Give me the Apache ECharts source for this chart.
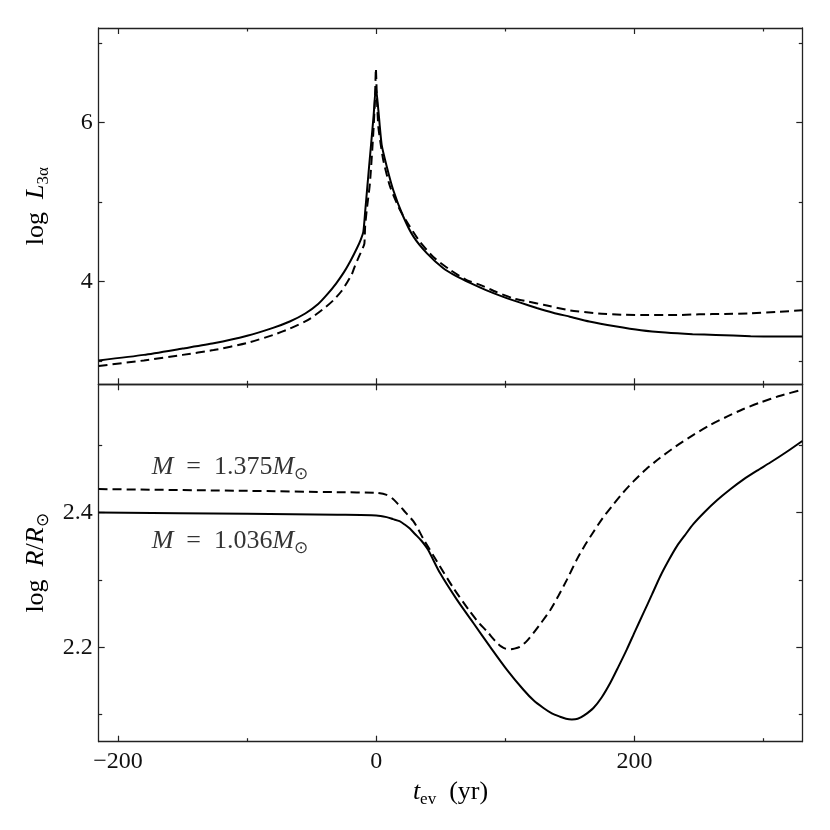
<!DOCTYPE html>
<html>
<head>
<meta charset="UTF-8">
<title>log L and log R against time</title>
<script src="https://cdn.jsdelivr.net/npm/echarts@6/dist/echarts.min.js"></script>
</head>
<body style="margin:0;background:#fff;">
<div id="chart" style="width:830px;height:830px;"></div>
<script type="text/javascript">
// shared time axis (yr)
var tMin = -215, tMax = 330;
var tMajor = [-200, 0, 200];
var tMinor = [-100, 100, 300];

// top panel, log L_3alpha
var lumMin = 2.71, lumMax = 7.19;
var lumMajor = [4, 6];
var lumMinor = [3, 5, 7];

// bottom panel, log R/Rsun
var radMin = 2.06, radMax = 2.59;
var radMajor = [2.2, 2.4];
var radMinor = [2.1, 2.3, 2.5];

// M = 1.036 Msun (solid)
var tLumLow = [-215, -180, -150, -126, -100, -80, -67, -55, -45, -38, -31, -25, -20, -15, -12, -10,
    -8.5, -7, -5.5, -4, -2, -0.3, 1.6, 4.2, 8.1, 13.2, 20.9, 28.7, 39.1, 51.9, 62, 72.6, 85, 98.4,
    111, 124.3, 137, 150, 165, 185, 205, 224, 245, 263, 290, 310, 330];
var lumLow = [3.01, 3.08, 3.16, 3.225, 3.32, 3.42, 3.50, 3.60, 3.72, 3.84, 3.98, 4.12, 4.26, 4.42, 4.53, 4.63,
    4.90, 5.18, 5.46, 5.73, 6.10, 6.45, 6.16, 5.72, 5.45, 5.15, 4.82, 4.57, 4.36, 4.17, 4.07, 3.985, 3.895, 3.81,
    3.74, 3.67, 3.61, 3.56, 3.50, 3.44, 3.39, 3.36, 3.34, 3.33, 3.315, 3.31, 3.31];

// M = 1.375 Msun (dashed)
var tLumHigh = [-215, -180, -150, -126, -100, -80, -67, -55, -49, -40, -33, -27, -23, -19, -16.5, -13,
    -10.5, -9.2, -8.6, -7.4, -4.9, -2.3, -1, -0.3, 0.5, 1.6, 3.5, 5.4, 10.6, 18.4, 26.1, 33.9, 44.2,
    57.1, 70, 80.4, 93, 106.2, 118, 129.5, 150, 172, 191, 211, 230, 250, 270, 288, 310, 330];
var lumHigh = [2.94, 3.01, 3.08, 3.14, 3.23, 3.33, 3.41, 3.50, 3.56, 3.67, 3.77, 3.88, 3.98, 4.09, 4.20, 4.33,
    4.42, 4.48, 4.70, 4.90, 5.24, 5.87, 6.29, 6.68, 6.30, 5.95, 5.72, 5.53, 5.20, 4.90, 4.69, 4.50, 4.31,
    4.15, 4.02, 3.96, 3.87, 3.79, 3.75, 3.71, 3.64, 3.60, 3.585, 3.58, 3.58, 3.59, 3.595, 3.60, 3.62, 3.64];

var tRadLow = [-215, -100, -30, 0, 8, 13, 18, 22, 26, 30, 35, 40, 49.4, 62.3, 75.2, 88.1, 101.1, 114,
    122, 129.5, 136, 142.4, 147, 151.5, 156, 161, 168.2, 174.7, 181.2, 187.5, 194.1, 200.5, 207,
    213.5, 219.9, 226.5, 232.9, 239, 245.7, 254, 263.9, 274, 284.5, 295, 305.2, 318, 330];
var radLow = [2.400, 2.398, 2.3965, 2.3955, 2.393, 2.390, 2.387, 2.382, 2.376, 2.368, 2.358, 2.345, 2.310, 2.271, 2.236, 2.201, 2.167, 2.137,
    2.121, 2.110, 2.102, 2.097, 2.094, 2.093, 2.094, 2.099, 2.110, 2.126, 2.147, 2.171, 2.197, 2.224, 2.251,
    2.278, 2.305, 2.329, 2.350, 2.366, 2.383, 2.400, 2.418, 2.434, 2.449, 2.462, 2.474, 2.490, 2.506];

var tRadHigh = [-215, -100, -30, 0, 8, 13, 17, 20.9, 24.5, 28.7, 32.5, 36.4, 46.8, 59.7, 72.6, 80, 85.6,
    90, 93.3, 97, 100, 103.6, 107, 111.4, 116, 121.7, 128, 134.7, 141, 147.6, 155.3, 161.5, 168.2,
    175.5, 183.7, 191, 199.2, 209, 219.9, 232, 245.7, 258, 271.6, 284, 297.4, 313, 330];
var radHigh = [2.4346, 2.432, 2.430, 2.429, 2.426, 2.420, 2.412, 2.404, 2.396, 2.387, 2.375, 2.361, 2.328, 2.288, 2.253, 2.235, 2.224,
    2.214, 2.207, 2.201, 2.198, 2.197, 2.198, 2.201, 2.208, 2.221, 2.237, 2.255, 2.276, 2.300, 2.330, 2.351, 2.371,
    2.392, 2.412, 2.429, 2.446, 2.464, 2.481, 2.498, 2.515, 2.529, 2.542, 2.553, 2.563, 2.573, 2.582];

// curve labels in the bottom panel
var massLabels = ['1.375', '1.036'];
var labelT = [-174, -174];
var labelR = [2.467, 2.358];

var font = 'Liberation Serif';
var frame = '#222';

function pair(xs, ys) {
    return xs.map(function (x, i) { return [x, ys[i]]; });
}

var rich = {
    n: { fontFamily: font, fontSize: 26, lineHeight: 32, verticalAlign: 'middle', color: '#000' },
    i: { fontFamily: font, fontSize: 26, lineHeight: 32, verticalAlign: 'middle', fontStyle: 'italic', color: '#000' },
    s: { fontFamily: font, fontSize: 17, lineHeight: 17, verticalAlign: 'bottom', color: '#000' }
};

// one value axis per side, a major and a minor one, ticks pointing in
function makeAxes(kind, gridIndex, min, max, major, minor, showLabels, nameOpt) {
    var sides = kind === 'x' ? ['bottom', 'top'] : ['left', 'right'];
    var out = [];
    sides.forEach(function (side, s) {
        [major, minor].forEach(function (ticks, m) {
            var ax = {
                type: 'value',
                gridIndex: gridIndex,
                position: side,
                min: min,
                max: max,
                axisLine: { show: m === 0, onZero: false, lineStyle: { color: frame, width: 1.3 } },
                axisTick: {
                    show: true, inside: true, length: m === 0 ? 6 : 3.5,
                    customValues: ticks, lineStyle: { color: frame, width: 1.2 }
                },
                axisLabel: {
                    show: showLabels && s === 0 && m === 0,
                    customValues: ticks,
                    margin: kind === 'x' ? 8 : 6,
                    fontFamily: font,
                    fontSize: 24,
                    color: '#111',
                    formatter: function (v) { return String(v).replace('-', '\u2212'); }
                },
                splitLine: { show: false },
                minorTick: { show: false }
            };
            if (nameOpt && s === 0 && m === 0) {
                Object.assign(ax, nameOpt);
            }
            out.push(ax);
        });
    });
    return out;
}

var myChart = echarts.init(document.getElementById('chart'));

var xAxes = makeAxes('x', 0, tMin, tMax, tMajor, tMinor, false)
    .concat(makeAxes('x', 1, tMin, tMax, tMajor, tMinor, true, {
        name: '{i|t}{s|ev}{n|  (yr)}',
        nameLocation: 'middle',
        nameGap: 34,
        nameTextStyle: { rich: rich }
    }));

var yAxes = makeAxes('y', 0, lumMin, lumMax, lumMajor, lumMinor, true, {
        name: '{n|log  }{i|L}{s|3\u03b1}',
        nameLocation: 'middle',
        nameRotate: 90,
        nameGap: 47,
        nameTextStyle: { rich: rich }
    })
    .concat(makeAxes('y', 1, radMin, radMax, radMajor, radMinor, true, {
        name: '{n|log  }{i|R}{n|/}{i|R}{s|\u2299}',
        nameLocation: 'middle',
        nameRotate: 90,
        nameGap: 47,
        nameTextStyle: { rich: rich }
    }));

function curve(data, xi, yi, dashed, smooth) {
    return {
        type: 'line',
        xAxisIndex: xi,
        yAxisIndex: yi,
        data: data,
        showSymbol: false,
        smooth: smooth,
        clip: true,
        silent: true,
        lineStyle: { color: '#000', width: 2, type: dashed ? [9, 5] : 'solid' }
    };
}

var option = {
    animation: false,
    backgroundColor: '#fff',
    grid: [
        { left: 98.7, right: 27.7, top: 28, height: 356.3, outerBoundsMode: 'none' },
        { left: 98.7, right: 27.7, top: 384.3, height: 357.4, outerBoundsMode: 'none' }
    ],
    xAxis: xAxes,
    yAxis: yAxes,
    series: [
        curve(pair(tLumLow, lumLow), 0, 0, false, 0.2),
        curve(pair(tLumHigh, lumHigh), 0, 0, true, 0.2),
        curve(pair(tRadLow, radLow), 4, 4, false, 0.25),
        curve(pair(tRadHigh, radHigh), 4, 4, true, 0.25),
        {
            type: 'scatter',
            xAxisIndex: 4,
            yAxisIndex: 4,
            symbolSize: 0,
            silent: true,
            data: pair(labelT, labelR),
            label: {
                show: true,
                position: 'right',
                distance: 0,
                formatter: function (p) {
                    return '{i|M}{n|  =  ' + massLabels[p.dataIndex] + '}{i|M}{s|\u2299}';
                },
                rich: rich
            }
        }
    ]
};

myChart.setOption(option);
</script>
</body>
</html>
